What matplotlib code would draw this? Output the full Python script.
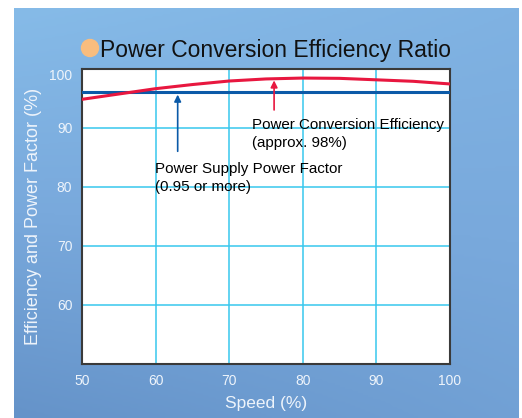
import numpy as np
import matplotlib
matplotlib.use('Agg')
import matplotlib.pyplot as plt
from matplotlib.colors import LinearSegmentedColormap
from matplotlib.patches import Ellipse

plt.rcParams['font.family'] = ['Liberation Sans', 'DejaVu Sans']

# data
speed = [50, 55, 60, 65, 70, 75, 80, 85, 90, 95, 100]
efficiency = [94.8, 95.7, 96.6, 97.3, 97.9, 98.25, 98.4, 98.35, 98.1, 97.85, 97.4]
power_factor = [96.0] * len(speed)
x_ticks = [50, 60, 70, 80, 90, 100]
y_ticks = [60, 70, 80, 90, 100]

RED = '#e8173f'
BLUE = '#0b5aa8'
GRID = '#38c8ee'
LABEL = '#eef4fb'

fig = plt.figure(figsize=(5.22, 4.18), dpi=100)
fig.patch.set_facecolor('white')

# blue backdrop panel
bg = fig.add_axes([14 / 522, 0, 505 / 522, 410 / 418], zorder=0)
gy, gx = np.mgrid[0:1:200j, 0:1:200j]
shade = 0.55 * gy + 0.25 * (1 - gx) * gy + 0.2 * gx * (1 - gy)
cmap = LinearSegmentedColormap.from_list('bg', ['#86bbe8', '#79a9dc', '#6593c9'])
bg.imshow(shade, cmap=cmap, aspect='auto', extent=[0, 1, 0, 1], origin='upper')
bg.set_axis_off()

ax = fig.add_axes([82 / 522, 1 - 364 / 418, 368 / 522, 295.4 / 418], zorder=2)
ax.set_facecolor('white')
ax.plot(speed, power_factor, color=BLUE, lw=2.2, zorder=3)
ax.plot(speed, efficiency, color=RED, lw=2.2, zorder=4)

ax.annotate('', xy=(76.1, 98.0), xytext=(76.1, 93.0),
            arrowprops=dict(arrowstyle='-|>', color=RED, lw=1.2,
                            mutation_scale=10, shrinkA=0, shrinkB=0))
ax.annotate('', xy=(63.0, 95.6), xytext=(63.0, 86.0),
            arrowprops=dict(arrowstyle='-|>', color=BLUE, lw=1.2,
                            mutation_scale=10, shrinkA=0, shrinkB=0))

ax.text(73.1, 91.6, 'Power Conversion Efficiency\n(approx. 98%)', fontsize=10.9,
        va='top', ha='left', linespacing=1.35, zorder=5)
ax.text(59.9, 84.2, 'Power Supply Power Factor\n(0.95 or more)', fontsize=10.9,
        va='top', ha='left', linespacing=1.35, zorder=5)

ax.set_xlim(50, 100)
ax.set_ylim(50, 100)
ax.set_xticks(x_ticks)
ax.set_yticks(y_ticks)
ax.grid(True, color=GRID, lw=1.1)
ax.set_axisbelow(True)
ax.tick_params(length=0, labelsize=10, labelcolor=LABEL, pad=7)
ax.get_yticklabels()[-1].set_va('top')
for s in ax.spines.values():
    s.set_color('#3a3a3a')
    s.set_linewidth(1.5)

ax.set_xlabel('Speed (%)', fontsize=12.5, color=LABEL, labelpad=6)
ax.set_ylabel('Efficiency and Power Factor (%)', fontsize=13, color=LABEL, labelpad=5)

# title with orange dot
fig.patches.append(Ellipse((90 / 522, 1 - 48 / 418), 17 / 522, 17 / 418,
                           transform=fig.transFigure, color='#f9bd7e', zorder=3))
fig.text(100 / 522, 1 - 57 / 418, 'Power Conversion Efficiency Ratio', fontsize=16.5,
         va='baseline', ha='left', color='#111111')

fig.savefig('out.png', dpi=100)
